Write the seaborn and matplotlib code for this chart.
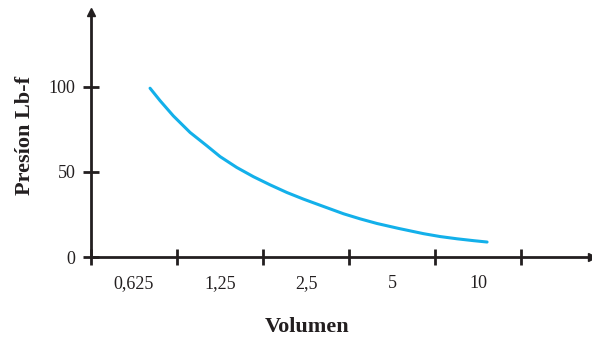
import matplotlib
matplotlib.use("Agg")
import matplotlib.pyplot as plt
import seaborn as sns
import pandas as pd

# Data (x as position along the categorical volume axis; slot centers at 0.5, 1.5, ...)
volume_labels = ["0,625", "1,25", "2,5", "5", "10"]
label_pos = [0.5, 1.5, 2.5, 3.5, 4.5]
tick_pos = [0, 1, 2, 3, 4, 5]
curve_x = [0.686, 0.802, 0.957, 1.151, 1.345, 1.500, 1.694, 1.887, 2.081, 2.276,
           2.469, 2.663, 2.934, 3.128, 3.322, 3.573, 3.864, 4.058, 4.252, 4.445, 4.601]
curve_p = [99.2, 91.9, 82.9, 73.2, 65.4, 59.0, 52.6, 47.2, 42.4, 37.9,
           34.0, 30.4, 25.4, 22.4, 19.7, 16.8, 13.7, 12.0, 10.7, 9.6, 8.8]
y_ticks = [0, 50, 100]

sns.set_theme(style="white")
plt.rcParams["font.family"] = ["Liberation Serif", "DejaVu Serif"]

fig = plt.figure(figsize=(5.92, 3.37), dpi=100)
ax = fig.add_axes([91/592, 80/337, (592-91)/592, (257-12)/337])

df = pd.DataFrame({"x": curve_x, "p": curve_p})
sns.lineplot(data=df, x="x", y="p", ax=ax, color="#13b0ea", linewidth=2.2)

ax.set_xlim(0, 5.82)
ax.set_ylim(0, 144)
for s in ["top", "right"]:
    ax.spines[s].set_visible(False)
for s in ["left", "bottom"]:
    ax.spines[s].set_linewidth(2.0)
    ax.spines[s].set_color("#231f20")
    ax.spines[s].set_zorder(3)

# arrows
ax.plot(1, 0, ">", transform=ax.transAxes, clip_on=False, color="#231f20", markersize=6)
ax.plot(0, 1, "^", transform=ax.transAxes, clip_on=False, color="#231f20", markersize=6)

ax.set_xticks(tick_pos)
ax.set_xticklabels([])
ax.set_xticks(label_pos, minor=True)
ax.set_xticklabels(volume_labels, minor=True)
ax.tick_params(axis="x", which="major", bottom=True, direction="inout", length=12, width=2.0, color="#231f20")
ax.tick_params(axis="x", which="minor", bottom=True, length=0, pad=13, labelsize=13, labelcolor="#231f20")

ax.set_yticks(y_ticks)
ax.set_yticklabels([str(v) for v in y_ticks])
ax.tick_params(axis="y", left=True, direction="inout", length=12, width=2.0, color="#231f20",
               labelsize=13, labelcolor="#231f20", pad=5)

ax.set_xlabel("Volumen", fontsize=16, fontweight="bold", color="#231f20")
ax.xaxis.set_label_coords((307-91)/(592-91), -60/245)
ax.set_ylabel("Presíon Lb-f", fontsize=16, fontweight="bold", color="#231f20")
ax.yaxis.set_label_coords(-56/501, (257-135)/245)

fig.savefig("out.png", dpi=100)
